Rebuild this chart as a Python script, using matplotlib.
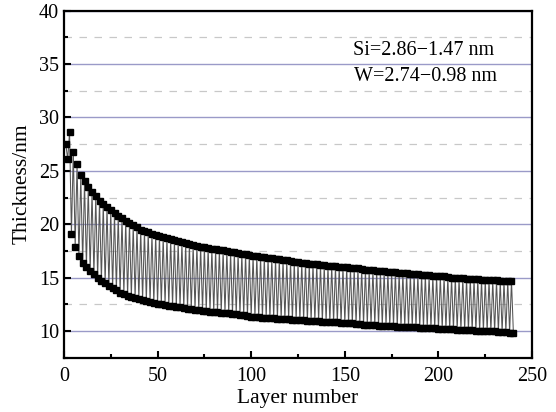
import numpy as np
import matplotlib
matplotlib.use('Agg')
import matplotlib.pyplot as plt
from matplotlib.ticker import MultipleLocator

plt.rcParams['font.family'] = ['Liberation Serif', 'DejaVu Serif']

# Si layers (odd layer numbers), thickness
si_thick = [27.5, 28.6, 26.8, 25.6, 24.6, 24.0, 23.5, 23.0, 22.6, 22.2,
            21.9, 21.6, 21.3, 21.05, 20.8, 20.55, 20.3, 20.1, 19.9, 19.7,
            19.5, 19.4, 19.25, 19.1, 19.0, 18.9, 18.8, 18.7, 18.6, 18.5,
            18.4, 18.3, 18.2, 18.1, 18.05, 18.0, 17.9, 17.85, 17.8, 17.7,
            17.65, 17.6, 17.55, 17.5, 17.4, 17.35, 17.3, 17.25, 17.2, 17.1,
            17.05, 17.0, 16.95, 16.9, 16.85, 16.8, 16.75, 16.7, 16.65, 16.6,
            16.55, 16.5, 16.45, 16.4, 16.35, 16.3, 16.3, 16.25, 16.2, 16.15,
            16.1, 16.1, 16.05, 16.0, 16.0, 15.95, 15.9, 15.85, 15.85, 15.8,
            15.75, 15.7, 15.7, 15.65, 15.6, 15.6, 15.55, 15.5, 15.5, 15.45,
            15.4, 15.4, 15.35, 15.3, 15.3, 15.25, 15.25, 15.2, 15.15, 15.15,
            15.1, 15.1, 15.05, 15.0, 15.0, 14.95, 14.95, 14.9, 14.9, 14.85,
            14.85, 14.8, 14.8, 14.8, 14.75, 14.75, 14.7, 14.7, 14.7, 14.7]

# W layers (even layer numbers)
w_thick = [26.1, 19.1, 17.9, 17.0, 16.4, 16.0, 15.6, 15.3, 15.0, 14.7,
           14.45, 14.2, 14.0, 13.8, 13.6, 13.45, 13.3, 13.2, 13.1, 13.0,
           12.9, 12.8, 12.7, 12.6, 12.55, 12.5, 12.45, 12.35, 12.3, 12.25,
           12.2, 12.15, 12.1, 12.05, 12.0, 11.95, 11.9, 11.85, 11.8, 11.8,
           11.75, 11.7, 11.7, 11.65, 11.6, 11.55, 11.5, 11.45, 11.4, 11.35,
           11.3, 11.3, 11.25, 11.25, 11.2, 11.2, 11.15, 11.15, 11.1, 11.1,
           11.05, 11.05, 11.0, 11.0, 10.95, 10.95, 10.9, 10.9, 10.85, 10.85,
           10.8, 10.8, 10.8, 10.75, 10.75, 10.7, 10.7, 10.65, 10.65, 10.6,
           10.6, 10.55, 10.55, 10.5, 10.5, 10.5, 10.45, 10.45, 10.4, 10.4,
           10.4, 10.35, 10.35, 10.35, 10.3, 10.3, 10.3, 10.25, 10.25, 10.2,
           10.2, 10.2, 10.15, 10.15, 10.1, 10.1, 10.1, 10.05, 10.05, 10.0,
           10.0, 10.0, 9.95, 9.95, 9.95, 9.9, 9.9, 9.9, 9.85, 9.85]

si_layer = 1 + 2 * np.arange(len(si_thick))
w_layer = 2 + 2 * np.arange(len(w_thick))

# whole stack in layer order (zig-zag line)
layer = np.concatenate([si_layer, w_layer])
thick = np.concatenate([si_thick, w_thick])
order = np.argsort(layer)
layer, thick = layer[order], thick[order]

fig = plt.figure(figsize=(5.56, 4.12), dpi=100)
ax = fig.add_axes([0.115, 0.132, 0.842, 0.842])

ax.plot(layer, thick, color='#555555', linewidth=0.75, zorder=2)
ax.plot(layer, thick, linestyle='none', marker='s', markersize=5.0,
        color='black', zorder=3)

ax.set_xlim(0, 250)
ax.set_ylim(7.5, 40)
ax.xaxis.set_major_locator(MultipleLocator(50))
ax.xaxis.set_minor_locator(MultipleLocator(25))
ax.yaxis.set_major_locator(MultipleLocator(5))
ax.yaxis.set_minor_locator(MultipleLocator(2.5))
ax.set_yticks([10, 15, 20, 25, 30, 35, 40])

ax.grid(axis='y', which='major', color='#9a9ac8', linewidth=1.0, zorder=1)
ax.grid(axis='y', which='minor', color='#c8c8c8', linewidth=0.9,
        linestyle=(0, (6, 6)), zorder=1)
ax.set_axisbelow(True)

ax.tick_params(which='both', direction='in', top=False, right=False,
               labelsize=14.5, width=1.5)
ax.tick_params(which='major', length=5)
ax.tick_params(which='minor', length=3)
ax.tick_params(axis='x', pad=7)
for s in ax.spines.values():
    s.set_linewidth(1.6)

ax.set_xlabel('Layer number', fontsize=15.5, labelpad=2)
ax.set_ylabel('Thickness/nm', fontsize=15.5, labelpad=5)

ax.text(192, 36.3, 'Si=2.86\u22121.47 nm', fontsize=14.5, ha='center', va='center')
ax.text(193, 33.8, 'W=2.74\u22120.98 nm', fontsize=14.5, ha='center', va='center')

fig.savefig('out.png', dpi=100)
